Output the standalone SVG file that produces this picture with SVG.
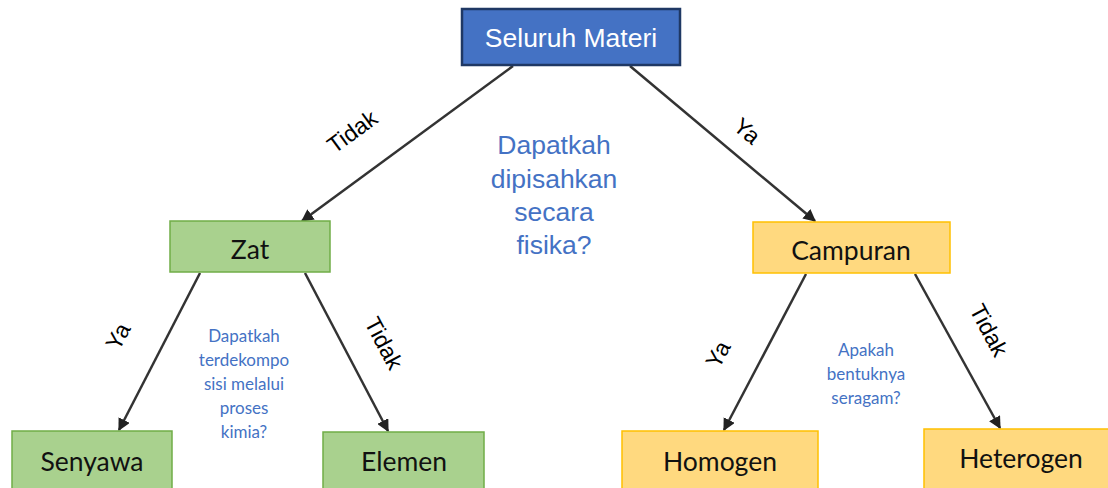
<svg xmlns="http://www.w3.org/2000/svg" width="1108" height="488" viewBox="0 0 1108 488">
<style>
.green{fill:#a9d18e;stroke:#70ad47;stroke-width:1.5}
.orange{fill:#ffd97f;stroke:#ffc000;stroke-width:1.5}
.nt{font-family:Lato,"Liberation Sans",sans-serif;font-size:26.5px;fill:#111;text-anchor:middle}
.lbl{font-family:"Liberation Sans",Arial,sans-serif;font-size:23px;fill:#000;text-anchor:middle}
.q{font-family:"Liberation Sans",Arial,sans-serif;font-size:26.5px;fill:#4472c4;text-anchor:middle}
.qs{font-family:Lato,"Liberation Sans",sans-serif;font-size:17px;fill:#4472c4;text-anchor:middle}
.c{stroke:#333;stroke-width:2.5;fill:none;marker-end:url(#ah)}
</style>
<defs>
<marker id="ah" viewBox="0 0 10 10" refX="9" refY="5" markerWidth="5" markerHeight="5" orient="auto"><path d="M0,0 L10,5 L0,10 z" fill="#222"/></marker>
<linearGradient id="gg" x1="0" y1="0" x2="0" y2="1"><stop offset="0" stop-color="#b5d8a0"/><stop offset="1" stop-color="#9fcb85"/></linearGradient>
<linearGradient id="og" x1="0" y1="0" x2="0" y2="1"><stop offset="0" stop-color="#ffde93"/><stop offset="1" stop-color="#ffd36e"/></linearGradient>
</defs>
<rect width="1108" height="488" fill="#fff"/>
<g id="connectors">
<line class="c" x1="513" y1="66" x2="302" y2="221"/>
<line class="c" x1="630" y1="66" x2="815" y2="221"/>
<line class="c" x1="200" y1="273" x2="119" y2="430"/>
<line class="c" x1="305" y1="273" x2="388" y2="431"/>
<line class="c" x1="806" y1="274" x2="724" y2="430"/>
<line class="c" x1="915" y1="274" x2="1000" y2="428"/>
<text class="lbl" transform="translate(357,138) rotate(-36)">Tidak</text>
<text class="lbl" transform="translate(742,137) rotate(40)">Ya</text>
<text class="lbl" transform="translate(125,340) rotate(-62)">Ya</text>
<text class="lbl" transform="translate(377,347) rotate(62)">Tidak</text>
<text class="lbl" transform="translate(725,358) rotate(-62)">Ya</text>
<text class="lbl" transform="translate(982,334) rotate(62)">Tidak</text>
</g>
<g id="q1">
<text class="q" x="554" y="154">Dapatkah</text>
<text class="q" x="554" y="188">dipisahkan</text>
<text class="q" x="554" y="221">secara</text>
<text class="q" x="554" y="254">fisika?</text>
</g>
<g id="q2">
<text class="qs" x="244" y="342">Dapatkah</text>
<text class="qs" x="244" y="366">terdekompo</text>
<text class="qs" x="244" y="390">sisi melalui</text>
<text class="qs" x="244" y="414">proses</text>
<text class="qs" x="244" y="438">kimia?</text>
</g>
<g id="q3">
<text class="qs" x="866" y="356">Apakah</text>
<text class="qs" x="866" y="380">bentuknya</text>
<text class="qs" x="866" y="404">seragam?</text>
</g>
<g id="seluruh">
<rect x="462" y="9" width="218" height="56" fill="#4472c4" stroke="#1f3864" stroke-width="2.5"/>
<text x="571" y="47" font-family="'Liberation Sans',Arial,sans-serif" font-size="26.5" fill="#fff" text-anchor="middle">Seluruh Materi</text>
</g>
<g id="zat">
<rect class="green" x="170" y="221" width="160" height="51" fill="url(#gg)"/>
<text class="nt" x="250" y="259">Zat</text>
</g>
<g id="campuran">
<rect class="orange" x="753" y="222" width="197" height="51" fill="url(#og)"/>
<text class="nt" x="851" y="260">Campuran</text>
</g>
<g id="senyawa">
<rect class="green" x="12" y="431" width="160" height="60" fill="url(#gg)"/>
<text class="nt" x="92" y="471">Senyawa</text>
</g>
<g id="elemen">
<rect class="green" x="323" y="432" width="161" height="60" fill="url(#gg)"/>
<text class="nt" x="404" y="471">Elemen</text>
</g>
<g id="homogen">
<rect class="orange" x="622" y="431" width="196" height="60" fill="url(#og)"/>
<text class="nt" x="720" y="471">Homogen</text>
</g>
<g id="heterogen">
<rect class="orange" x="924" y="429" width="190" height="62" fill="url(#og)"/>
<text class="nt" x="1021" y="468">Heterogen</text>
</g>
</svg>
